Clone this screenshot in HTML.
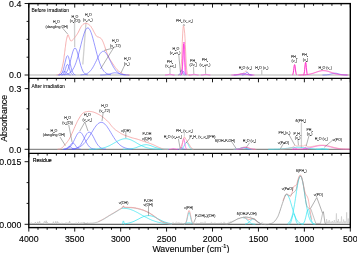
<!DOCTYPE html>
<html><head><meta charset="utf-8"><style>
html,body{margin:0;padding:0;background:#fff;overflow:hidden;}
svg{display:block;will-change:transform;font-family:"Liberation Sans",sans-serif;}
text{font-family:"Liberation Sans",sans-serif;}
</style></head><body>
<svg width="357" height="253" viewBox="0 0 357 253">
<rect width="357" height="253" fill="#fff"/>
<defs><clipPath id="pc"><rect x="28.80" y="0" width="321.50" height="253"/></clipPath></defs>
<g stroke-linejoin="round" fill="none" clip-path="url(#pc)">
<path d="M28.8 75.0L350.3 75.0" stroke="#a8a8a8" stroke-width="0.9"/>
<path d="M74.5 22.8L74.7 47.0" stroke="#cfcfcf" stroke-width="1.3"/>
<path d="M86.0 22.5L82.8 64.5" stroke="#cfcfcf" stroke-width="1.3"/>
<path d="M56.5 75.0L56.7 75.0L56.9 75.0L57.1 75.0L57.4 74.9L57.7 74.9L58.0 74.8L58.3 74.7L58.6 74.5L58.9 74.4L59.2 74.2L59.5 73.9L59.8 73.6L60.1 73.3L60.3 72.9L60.6 72.5L60.9 72.0L61.1 71.3L61.4 70.5L61.7 69.4L62.0 68.1L62.4 66.6L62.7 65.1L63.0 63.6L63.3 62.2L63.5 60.9L63.7 59.7L63.9 58.6L64.0 57.4L64.1 56.2L64.3 55.0L64.5 53.8L64.6 52.5L64.8 51.2L65.0 50.0L65.1 48.7L65.3 47.5L65.5 46.3L65.6 45.1L65.8 43.9L65.9 42.7L66.1 41.6L66.3 40.5L66.5 39.4L66.8 38.2L67.1 37.0L67.4 36.0L67.6 35.2L67.9 34.8L68.1 34.8L68.4 35.1L68.6 35.7L68.8 36.5L69.1 37.2L69.3 37.8L69.5 38.4L69.8 39.0L70.0 39.6L70.3 40.2L70.5 40.7L70.8 41.0L71.1 41.1L71.4 41.0L71.6 40.9L71.9 40.6L72.3 40.3L72.6 40.0L73.0 39.7L73.3 39.3L73.7 38.8L74.1 38.3L74.6 37.8L75.0 37.2L75.5 36.6L75.9 36.0L76.4 35.3L76.9 34.6L77.4 33.8L77.9 33.0L78.4 32.1L78.9 31.0L79.4 30.0L79.9 28.9L80.4 27.9L80.9 27.1L81.3 26.4L81.7 25.8L82.1 25.3L82.5 24.9L82.9 24.5L83.3 24.2L83.8 23.9L84.3 23.7L84.8 23.5L85.3 23.4L85.9 23.3L86.4 23.4L87.0 23.6L87.6 23.8L88.2 24.1L88.8 24.5L89.4 25.0L89.9 25.4L90.4 25.9L90.8 26.4L91.2 26.9L91.5 27.5L91.9 28.1L92.3 28.7L92.7 29.4L93.1 30.2L93.5 31.0L93.9 31.8L94.3 32.5L94.7 33.2L95.0 33.8L95.3 34.4L95.6 34.9L95.9 35.4L96.2 35.8L96.5 36.2L96.9 36.5L97.2 36.7L97.6 36.8L98.0 36.9L98.4 37.0L98.8 37.2L99.2 37.4L99.6 37.6L100.0 37.8L100.4 38.0L100.8 38.3L101.2 38.6L101.5 39.0L101.8 39.5L102.1 40.0L102.4 40.5L102.7 41.2L103.0 41.8L103.3 42.5L103.5 43.1L103.8 43.8L104.1 44.6L104.4 45.5L104.8 46.6L105.2 47.9L105.7 49.4L106.2 51.1L106.8 52.7L107.4 54.3L108.0 55.8L108.6 57.1L109.3 58.3L110.0 59.5L110.7 60.6L111.5 61.7L112.2 62.8L112.9 64.0L113.7 65.2L114.5 66.3L115.3 67.5L116.1 68.5L116.9 69.5L117.8 70.4L118.7 71.2L119.7 71.9L120.6 72.5L121.5 73.1L122.3 73.6L123.0 74.0L123.6 74.3L124.2 74.4L124.8 74.6L125.4 74.7L126.0 74.8L126.7 74.9L127.5 74.9L128.2 75.0L129.0 75.0L129.6 75.0L130.0 75.0" stroke="#f49a9a" stroke-width="0.8" fill="none"/>
<path d="M178.0 75.0L178.3 75.0L178.7 75.0L179.0 75.0L179.3 75.0L179.7 74.8L180.0 74.6L180.3 73.9L180.7 72.4L181.0 69.6L181.3 64.9L181.7 58.3L182.0 50.1L182.3 41.4L182.7 33.9L183.0 28.7L183.3 26.2L183.7 26.1L184.0 27.5L184.3 29.9L184.7 33.3L185.0 38.2L185.3 44.6L185.7 51.9L186.0 59.0L186.3 65.0L186.7 69.3L187.0 72.1L187.3 73.7L187.7 74.5L188.0 74.8L188.3 74.9L188.7 75.0L189.0 75.0L189.3 75.0L189.7 75.0L190.0 75.0" stroke="#f49a9a" stroke-width="0.7" fill="none"/>
<path d="M234.0 74.9L234.5 74.9L235.1 74.8L235.6 74.8L236.1 74.7L236.7 74.6L237.2 74.5L237.7 74.4L238.3 74.3L238.8 74.1L239.3 74.0L239.9 73.9L240.4 73.8L240.9 73.7L241.5 73.7L242.0 73.6L242.5 73.5L243.1 73.3L243.6 73.0L244.1 72.6L244.7 72.0L245.2 71.5L245.7 71.1L246.3 71.0L246.8 71.3L247.3 71.8L247.9 72.6L248.4 73.3L248.9 73.9L249.5 74.4L250.0 74.7L250.5 74.8L251.1 74.9L251.6 75.0" stroke="#f49a9a" stroke-width="0.6" fill="none"/>
<path d="M292.0 75.0L292.2 74.9L292.5 74.7L292.8 74.2L293.0 73.5L293.3 72.2L293.6 70.4L293.8 68.4L294.1 66.3L294.4 64.9L294.6 64.4L294.9 65.1L295.2 66.7L295.4 68.8L295.7 70.8L296.0 72.5L296.2 73.7L296.5 74.4L296.8 74.7L297.0 74.9" stroke="#f49a9a" stroke-width="0.5" fill="none"/>
<path d="M303.1 74.9L303.4 74.8L303.6 74.6L303.9 74.1L304.1 73.1L304.4 71.6L304.6 69.5L304.9 66.9L305.1 64.4L305.4 62.7L305.6 62.1L305.9 62.9L306.1 64.9L306.4 67.4L306.6 69.9L306.9 72.0L307.1 73.4L307.4 74.2L307.6 74.7L307.9 74.9" stroke="#f49a9a" stroke-width="0.5" fill="none"/>
<path d="M297.8 75.0L298.8 75.0L299.8 75.0L300.8 74.9L301.8 74.9L302.8 74.9L303.8 74.8L304.8 74.7L305.8 74.7L306.8 74.5L307.8 74.4L308.8 74.2L309.8 74.0L310.8 73.8L311.8 73.5L312.8 73.2L313.8 72.9L314.8 72.5L315.8 72.2L316.8 71.8L317.8 71.5L318.8 71.2L319.8 70.9L320.8 70.7L321.8 70.5L322.8 70.4L323.8 70.4L324.8 70.5L325.8 70.6L326.8 70.8L327.8 71.0L328.8 71.3L329.8 71.7L330.8 72.0L331.8 72.4L332.8 72.7L333.8 73.1L334.8 73.4L335.8 73.7L336.8 73.9L337.8 74.1L338.8 74.3L339.8 74.5L340.8 74.6L341.8 74.7L342.8 74.8L343.8 74.8L344.8 74.9L345.8 74.9L346.8 74.9L347.8 75.0L348.8 75.0" stroke="#f49a9a" stroke-width="0.5" fill="none"/>
<path d="M58.9 74.9L59.8 74.8L60.7 74.4L61.5 73.6L62.4 72.2L63.3 69.9L64.1 66.7L65.0 62.8L65.9 59.1L66.7 56.5L67.6 55.6L68.5 56.9L69.3 59.8L70.2 63.6L71.1 67.4L71.9 70.4L72.8 72.5L73.7 73.8L74.5 74.5L75.4 74.8" stroke="#5656ff" stroke-width="0.6" fill="none"/>
<path d="M61.2 75.0L61.9 74.9L62.5 74.7L63.1 74.2L63.8 73.5L64.4 72.2L65.0 70.4L65.7 68.3L66.3 66.2L66.9 64.8L67.6 64.3L68.2 65.0L68.8 66.6L69.5 68.7L70.1 70.8L70.7 72.5L71.4 73.6L72.0 74.3L72.6 74.7L73.3 74.9" stroke="#5656ff" stroke-width="0.6" fill="none"/>
<path d="M57.9 75.0L58.6 75.0L59.2 74.9L59.9 74.8L60.6 74.5L61.2 74.1L61.9 73.5L62.6 72.8L63.2 72.1L63.9 71.7L64.6 71.5L65.2 71.7L65.9 72.3L66.6 72.9L67.2 73.6L67.9 74.2L68.6 74.6L69.2 74.8L69.9 74.9L70.6 75.0" stroke="#5656ff" stroke-width="0.6" fill="none"/>
<path d="M61.8 74.9L62.8 74.7L63.8 74.5L64.8 74.0L65.8 73.1L66.8 71.7L67.8 69.7L68.8 66.9L69.8 63.4L70.8 59.4L71.8 55.4L72.8 51.8L73.8 49.2L74.8 48.0L75.8 48.5L76.8 50.6L77.8 53.9L78.8 57.8L79.8 61.9L80.8 65.6L81.8 68.6L82.8 71.0L83.8 72.6L84.8 73.7L85.8 74.3L86.8 74.7L87.8 74.8" stroke="#5656ff" stroke-width="0.6" fill="none"/>
<path d="M64.0 74.8L65.0 74.7L66.0 74.5L67.0 74.3L68.0 73.9L69.0 73.4L70.0 72.7L71.0 71.9L72.0 70.7L73.0 69.2L74.0 67.4L75.0 65.2L76.0 62.6L77.0 59.5L78.0 56.2L79.0 52.5L80.0 48.6L81.0 44.6L82.0 40.7L83.0 37.1L84.0 33.8L85.0 31.1L86.0 29.2L87.0 28.1L88.0 27.8L89.0 28.5L90.0 30.0L91.0 32.3L92.0 35.3L93.0 38.8L94.0 42.6L95.0 46.5L96.0 50.5L97.0 54.3L98.0 57.8L99.0 61.0L100.0 63.9L101.0 66.3L102.0 68.3L103.0 70.0L104.0 71.3L105.0 72.3L106.0 73.1L107.0 73.7L108.0 74.1L109.0 74.4L110.0 74.6L111.0 74.7" stroke="#5656ff" stroke-width="0.6" fill="none"/>
<path d="M80.5 74.9L81.5 74.8L82.5 74.7L83.5 74.6L84.5 74.4L85.5 74.1L86.5 73.8L87.5 73.3L88.5 72.6L89.5 71.8L90.5 70.7L91.5 69.5L92.5 68.0L93.5 66.3L94.5 64.4L95.5 62.4L96.5 60.4L97.5 58.3L98.5 56.3L99.5 54.6L100.5 53.1L101.5 52.1L102.5 51.4L103.5 51.3L104.5 51.7L105.5 52.5L106.5 53.8L107.5 55.4L108.5 57.2L109.5 59.2L110.5 61.3L111.5 63.4L112.5 65.3L113.5 67.1L114.5 68.7L115.5 70.1L116.5 71.2L117.5 72.2L118.5 72.9L119.5 73.5L120.5 74.0L121.5 74.3L122.5 74.5L123.5 74.7L124.5 74.8L125.5 74.9" stroke="#5656ff" stroke-width="0.6" fill="none"/>
<path d="M100.2 75.0L101.2 75.0L102.2 75.0L103.2 74.9L104.2 74.9L105.2 74.8L106.2 74.7L107.2 74.5L108.2 74.3L109.2 74.1L110.2 73.8L111.2 73.5L112.2 73.2L113.2 73.0L114.2 72.8L115.2 72.8L116.2 72.9L117.2 73.0L118.2 73.3L119.2 73.6L120.2 73.9L121.2 74.1L122.2 74.4L123.2 74.6L124.2 74.7L125.2 74.8L126.2 74.9L127.2 74.9L128.2 75.0L129.2 75.0" stroke="#5656ff" stroke-width="0.6" fill="none"/>
<path d="M178.3 75.0L178.6 74.9L179.0 74.8L179.3 74.6L179.6 74.3L180.0 73.7L180.3 72.9L180.6 71.9L181.0 70.9L181.3 70.2L181.6 70.0L182.0 70.3L182.3 71.1L182.6 72.1L183.0 73.0L183.3 73.8L183.6 74.4L184.0 74.7L184.3 74.9L184.6 74.9" stroke="#5656ff" stroke-width="0.6" fill="none"/>
<path d="M180.1 75.0L180.4 75.0L180.8 74.9L181.1 74.8L181.4 74.5L181.8 74.1L182.1 73.5L182.4 72.8L182.8 72.1L183.1 71.7L183.4 71.5L183.8 71.7L184.1 72.3L184.4 72.9L184.8 73.6L185.1 74.2L185.4 74.6L185.8 74.8L186.1 74.9L186.4 75.0" stroke="#5656ff" stroke-width="0.6" fill="none"/>
<path d="M241.9 75.0L242.4 75.0L242.9 74.9L243.4 74.8L243.9 74.6L244.4 74.3L244.9 73.9L245.4 73.4L245.9 72.9L246.4 72.5L246.9 72.4L247.4 72.6L247.9 73.0L248.4 73.5L248.9 74.0L249.4 74.4L249.9 74.7L250.4 74.8L250.9 74.9L251.4 75.0" stroke="#5656ff" stroke-width="0.6" fill="none"/>
<path d="M233.6 75.0L234.6 75.0L235.6 75.0L236.6 74.9L237.6 74.8L238.6 74.7L239.6 74.5L240.6 74.2L241.6 74.0L242.6 73.9L243.6 73.8L244.6 73.9L245.6 74.1L246.6 74.3L247.6 74.5L248.6 74.7L249.6 74.8L250.6 74.9L251.6 75.0L252.6 75.0" stroke="#5656ff" stroke-width="0.6" fill="none"/>
<path d="M322.5 75.0L323.5 75.0L324.5 75.0L325.5 74.9L326.5 74.9L327.5 74.7L328.5 74.6L329.5 74.4L330.5 74.1L331.5 73.8L332.5 73.6L333.5 73.3L334.5 73.2L335.5 73.2L336.5 73.3L337.5 73.5L338.5 73.8L339.5 74.1L340.5 74.4L341.5 74.6L342.5 74.7L343.5 74.8L344.5 74.9L345.5 75.0L346.5 75.0L347.5 75.0" stroke="#5656ff" stroke-width="0.6" fill="none"/>
<path d="M181.0 74.9L181.3 74.6L181.6 74.0L181.9 72.7L182.2 70.2L182.5 66.3L182.8 60.8L183.1 54.3L183.4 48.0L183.7 43.5L184.0 42.0L184.3 44.1L184.6 49.2L184.9 55.7L185.2 62.0L185.5 67.2L185.8 70.8L186.1 73.0L186.4 74.1L186.7 74.7" stroke="#ff30d8" stroke-width="0.65" fill="none"/>
<path d="M181.3 74.9L181.5 74.6L181.8 74.0L182.0 72.8L182.2 70.5L182.5 66.8L182.7 61.7L182.9 55.6L183.2 49.6L183.4 45.4L183.6 44.0L183.9 46.0L184.1 50.7L184.3 56.8L184.6 62.8L184.8 67.7L185.0 71.1L185.3 73.1L185.5 74.2L185.7 74.7" stroke="#ff30d8" stroke-width="0.65" fill="none"/>
<path d="M165.0 75.0L165.5 75.0L166.0 75.0L166.5 74.9L167.0 74.9L167.5 74.8L168.0 74.7L168.5 74.5L169.0 74.3L169.5 74.2L170.0 74.2L170.5 74.3L171.0 74.4L171.5 74.5L172.0 74.7L172.5 74.8L173.0 74.9L173.5 75.0L174.0 75.0L174.5 75.0" stroke="#ff30d8" stroke-width="0.65" fill="none"/>
<path d="M189.1 75.0L189.6 75.0L190.1 75.0L190.6 75.0L191.1 74.9L191.6 74.8L192.1 74.7L192.6 74.6L193.1 74.4L193.6 74.3L194.1 74.3L194.6 74.3L195.1 74.5L195.6 74.6L196.1 74.7L196.6 74.8L197.1 74.9L197.6 75.0L198.1 75.0L198.6 75.0" stroke="#ff30d8" stroke-width="0.65" fill="none"/>
<path d="M200.9 75.0L201.4 75.0L201.9 75.0L202.4 75.0L202.9 74.9L203.4 74.8L203.9 74.7L204.4 74.6L204.9 74.5L205.4 74.4L205.9 74.4L206.4 74.4L206.9 74.5L207.4 74.6L207.9 74.8L208.4 74.9L208.9 74.9L209.4 75.0L209.9 75.0L210.4 75.0" stroke="#ff30d8" stroke-width="0.65" fill="none"/>
<path d="M231.4 75.0L232.4 75.0L233.4 75.0L234.4 74.9L235.4 74.9L236.4 74.8L237.4 74.7L238.4 74.5L239.4 74.3L240.4 74.2L241.4 74.0L242.4 73.9L243.4 73.9L244.4 74.0L245.4 74.1L246.4 74.3L247.4 74.5L248.4 74.7L249.4 74.8L250.4 74.9L251.4 74.9L252.4 75.0L253.4 75.0L254.4 75.0" stroke="#ff30d8" stroke-width="0.65" fill="none"/>
<path d="M298.6 75.0L299.6 75.0L300.6 75.0L301.6 74.9L302.6 74.9L303.6 74.9L304.6 74.8L305.6 74.7L306.6 74.6L307.6 74.5L308.6 74.4L309.6 74.2L310.6 74.0L311.6 73.7L312.6 73.5L313.6 73.2L314.6 72.8L315.6 72.5L316.6 72.1L317.6 71.8L318.6 71.5L319.6 71.2L320.6 71.0L321.6 70.8L322.6 70.7L323.6 70.7L324.6 70.8L325.6 70.9L326.6 71.1L327.6 71.3L328.6 71.6L329.6 72.0L330.6 72.3L331.6 72.7L332.6 73.0L333.6 73.3L334.6 73.6L335.6 73.9L336.6 74.1L337.6 74.3L338.6 74.5L339.6 74.6L340.6 74.7L341.6 74.8L342.6 74.8L343.6 74.9L344.6 74.9L345.6 74.9L346.6 75.0L347.6 75.0" stroke="#ff30d8" stroke-width="0.65" fill="none"/>
<path d="M292.1 75.0L292.4 74.9L292.6 74.7L292.9 74.3L293.1 73.5L293.4 72.3L293.6 70.6L293.9 68.5L294.1 66.6L294.4 65.2L294.6 64.7L294.9 65.4L295.1 66.9L295.4 69.0L295.6 71.0L295.9 72.6L296.1 73.7L296.4 74.4L296.6 74.7L296.9 74.9" stroke="#ff30d8" stroke-width="0.95" fill="none"/>
<path d="M303.3 74.9L303.5 74.8L303.8 74.6L304.0 74.1L304.2 73.2L304.5 71.7L304.7 69.5L304.9 67.0L305.2 64.6L305.4 62.9L305.6 62.3L305.9 63.1L306.1 65.1L306.3 67.6L306.6 70.0L306.8 72.0L307.0 73.4L307.3 74.2L307.5 74.7L307.7 74.9" stroke="#ff30d8" stroke-width="0.95" fill="none"/>
<path d="M62.2 27.7L67.8 34.2" stroke="#505050" stroke-width="0.45"/>
<path d="M113.5 47.9L104.0 50.5" stroke="#505050" stroke-width="0.45"/>
<path d="M113.5 47.9L100.5 69.0" stroke="#505050" stroke-width="0.45"/>
<path d="M124.5 65.5L121.0 72.9" stroke="#505050" stroke-width="0.45"/>
<path d="M183.9 24.2L183.0 26.0" stroke="#505050" stroke-width="0.4"/>
<path d="M183.9 24.2L184.8 26.0" stroke="#505050" stroke-width="0.4"/>
<path d="M178.8 55.1L180.4 72.0" stroke="#505050" stroke-width="0.45"/>
<path d="M170.0 67.3L170.0 73.8" stroke="#505050" stroke-width="0.4"/>
<path d="M193.5 66.8L193.8 73.8" stroke="#505050" stroke-width="0.4"/>
<path d="M205.4 66.0L205.6 73.8" stroke="#505050" stroke-width="0.4"/>
<path d="M261.8 69.8L261.8 74.5" stroke="#505050" stroke-width="0.4"/>
<path d="M28.8 149.3L350.3 149.3" stroke="#555555" stroke-width="0.85"/>
<path d="M301.4 122.6L301.4 148.3" stroke="#cfcfcf" stroke-width="1.3"/>
<path d="M62.8 149.3L63.5 149.3L64.1 149.2L64.8 149.1L65.5 148.9L66.1 148.6L66.8 148.1L67.5 147.5L68.1 147.0L68.8 146.6L69.5 146.5L70.1 146.7L70.8 147.1L71.5 147.7L72.1 148.2L72.8 148.6L73.5 148.9L74.1 149.1L74.8 149.2L75.5 149.3" stroke="#5656ff" stroke-width="0.6" fill="none"/>
<path d="M64.2 149.3L65.1 149.2L66.0 149.1L66.8 148.8L67.7 148.4L68.6 147.6L69.4 146.6L70.3 145.3L71.2 144.1L72.0 143.2L72.9 142.9L73.8 143.3L74.6 144.3L75.5 145.5L76.4 146.8L77.2 147.8L78.1 148.5L79.0 148.9L79.8 149.1L80.7 149.2" stroke="#5656ff" stroke-width="0.6" fill="none"/>
<path d="M63.6 149.2L64.6 149.2L65.6 149.0L66.6 148.8L67.6 148.5L68.6 148.0L69.6 147.3L70.6 146.3L71.6 145.0L72.6 143.4L73.6 141.5L74.6 139.4L75.6 137.3L76.6 135.3L77.6 133.7L78.6 132.6L79.6 132.1L80.6 132.3L81.6 133.3L82.6 134.7L83.6 136.6L84.6 138.7L85.6 140.8L86.6 142.8L87.6 144.5L88.6 145.9L89.6 147.0L90.6 147.8L91.6 148.4L92.6 148.7L93.6 149.0L94.6 149.1L95.6 149.2" stroke="#5656ff" stroke-width="0.6" fill="none"/>
<path d="M72.0 149.2L73.0 149.2L74.0 149.1L75.0 148.9L76.0 148.6L77.0 148.2L78.0 147.6L79.0 146.7L80.0 145.7L81.0 144.3L82.0 142.6L83.0 140.8L84.0 138.8L85.0 136.8L86.0 135.0L87.0 133.5L88.0 132.5L89.0 132.1L90.0 132.3L91.0 133.1L92.0 134.5L93.0 136.2L94.0 138.1L95.0 140.1L96.0 142.1L97.0 143.8L98.0 145.2L99.0 146.4L100.0 147.3L101.0 148.0L102.0 148.5L103.0 148.8L104.0 149.0L105.0 149.1L106.0 149.2" stroke="#5656ff" stroke-width="0.6" fill="none"/>
<path d="M68.9 149.2L69.9 149.1L70.9 149.1L71.9 149.0L72.9 148.9L73.9 148.7L74.9 148.6L75.9 148.3L76.9 148.1L77.9 147.7L78.9 147.3L79.9 146.8L80.9 146.2L81.9 145.4L82.9 144.6L83.9 143.7L84.9 142.6L85.9 141.4L86.9 140.0L87.9 138.6L88.9 137.1L89.9 135.5L90.9 133.8L91.9 132.2L92.9 130.5L93.9 128.9L94.9 127.4L95.9 126.0L96.9 124.8L97.9 123.8L98.9 123.1L99.9 122.6L100.9 122.3L101.9 122.4L102.9 122.7L103.9 123.3L104.9 124.1L105.9 125.2L106.9 126.4L107.9 127.9L108.9 129.4L109.9 131.0L110.9 132.7L111.9 134.4L112.9 136.0L113.9 137.6L114.9 139.1L115.9 140.5L116.9 141.8L117.9 142.9L118.9 144.0L119.9 144.9L120.9 145.7L121.9 146.4L122.9 147.0L123.9 147.4L124.9 147.8L125.9 148.2L126.9 148.4L127.9 148.6L128.9 148.8L129.9 148.9L130.9 149.0L131.9 149.1L132.9 149.2" stroke="#5656ff" stroke-width="0.6" fill="none"/>
<path d="M177.5 149.3L177.9 149.3L178.3 149.3L178.7 149.2L179.1 149.1L179.5 148.9L179.9 148.7L180.3 148.4L180.7 148.1L181.1 147.9L181.5 147.8L181.9 147.9L182.3 148.1L182.7 148.4L183.1 148.7L183.5 148.9L183.9 149.1L184.3 149.2L184.7 149.3L185.1 149.3" stroke="#5656ff" stroke-width="0.6" fill="none"/>
<path d="M234.8 149.3L235.6 149.3L236.4 149.2L237.3 149.2L238.1 149.0L238.9 148.8L239.8 148.5L240.6 148.2L241.4 147.8L242.3 147.6L243.1 147.5L243.9 147.6L244.8 147.9L245.6 148.2L246.4 148.6L247.3 148.9L248.1 149.1L248.9 149.2L249.8 149.3L250.6 149.3" stroke="#5656ff" stroke-width="0.6" fill="none"/>
<path d="M89.2 149.3L90.2 149.2L91.2 149.2L92.2 149.2L93.2 149.2L94.2 149.1L95.2 149.1L96.2 149.0L97.2 148.9L98.2 148.8L99.2 148.7L100.2 148.5L101.2 148.4L102.2 148.2L103.2 147.9L104.2 147.7L105.2 147.4L106.2 147.0L107.2 146.6L108.2 146.2L109.2 145.8L110.2 145.3L111.2 144.7L112.2 144.2L113.2 143.6L114.2 143.0L115.2 142.5L116.2 141.9L117.2 141.3L118.2 140.8L119.2 140.3L120.2 139.9L121.2 139.5L122.2 139.2L123.2 138.9L124.2 138.8L125.2 138.7L126.2 138.7L127.2 138.8L128.2 139.0L129.2 139.3L130.2 139.6L131.2 140.0L132.2 140.5L133.2 141.0L134.2 141.5L135.2 142.1L136.2 142.7L137.2 143.3L138.2 143.9L139.2 144.4L140.2 145.0L141.2 145.5L142.2 146.0L143.2 146.4L144.2 146.8L145.2 147.2L146.2 147.5L147.2 147.8L148.2 148.0L149.2 148.3L150.2 148.4L151.2 148.6L152.2 148.7L153.2 148.9L154.2 148.9L155.2 149.0L156.2 149.1L157.2 149.1L158.2 149.2L159.2 149.2L160.2 149.2L161.2 149.2" stroke="#30e4f0" stroke-width="0.7" fill="none"/>
<path d="M122.9 149.3L123.9 149.3L124.9 149.3L125.9 149.2L126.9 149.2L127.9 149.1L128.9 149.1L129.9 149.0L130.9 148.9L131.9 148.7L132.9 148.5L133.9 148.3L134.9 148.0L135.9 147.7L136.9 147.3L137.9 146.9L138.9 146.5L139.9 146.2L140.9 145.8L141.9 145.4L142.9 145.1L143.9 144.9L144.9 144.8L145.9 144.7L146.9 144.7L147.9 144.9L148.9 145.1L149.9 145.4L150.9 145.7L151.9 146.1L152.9 146.5L153.9 146.9L154.9 147.3L155.9 147.6L156.9 147.9L157.9 148.2L158.9 148.5L159.9 148.7L160.9 148.8L161.9 149.0L162.9 149.1L163.9 149.1L164.9 149.2L165.9 149.2L166.9 149.2L167.9 149.3L168.9 149.3" stroke="#30e4f0" stroke-width="0.7" fill="none"/>
<path d="M179.9 149.3L180.6 149.2L181.2 149.1L181.9 148.8L182.6 148.3L183.2 147.5L183.9 146.3L184.6 144.9L185.2 143.6L185.9 142.6L186.6 142.3L187.2 142.8L187.9 143.8L188.6 145.2L189.2 146.5L189.9 147.6L190.6 148.4L191.2 148.9L191.9 149.1L192.6 149.2" stroke="#30e4f0" stroke-width="0.7" fill="none"/>
<path d="M233.7 149.3L234.7 149.3L235.7 149.3L236.7 149.2L237.7 149.1L238.7 148.9L239.7 148.7L240.7 148.4L241.7 148.1L242.7 147.9L243.7 147.8L244.7 147.9L245.7 148.1L246.7 148.4L247.7 148.7L248.7 148.9L249.7 149.1L250.7 149.2L251.7 149.3L252.7 149.3" stroke="#30e4f0" stroke-width="0.7" fill="none"/>
<path d="M268.3 149.3L269.3 149.3L270.3 149.3L271.3 149.3L272.3 149.3L273.3 149.3L274.3 149.2L275.3 149.2L276.3 149.2L277.3 149.2L278.3 149.1L279.3 149.1L280.3 149.0L281.3 148.9L282.3 148.9L283.3 148.8L284.3 148.7L285.3 148.6L286.3 148.4L287.3 148.3L288.3 148.2L289.3 148.0L290.3 147.9L291.3 147.8L292.3 147.7L293.3 147.6L294.3 147.5L295.3 147.4L296.3 147.3L297.3 147.3L298.3 147.3L299.3 147.3L300.3 147.4L301.3 147.4L302.3 147.5L303.3 147.6L304.3 147.7L305.3 147.9L306.3 148.0L307.3 148.1L308.3 148.3L309.3 148.4L310.3 148.5L311.3 148.6L312.3 148.7L313.3 148.8L314.3 148.9L315.3 149.0L316.3 149.0L317.3 149.1L318.3 149.1L319.3 149.2L320.3 149.2L321.3 149.2L322.3 149.2L323.3 149.3L324.3 149.3L325.3 149.3L326.3 149.3L327.3 149.3" stroke="#30e4f0" stroke-width="0.7" fill="none"/>
<path d="M316.2 149.3L316.9 149.3L317.5 149.3L318.2 149.2L318.9 149.2L319.5 149.1L320.2 149.0L320.9 148.8L321.5 148.6L322.2 148.5L322.9 148.5L323.5 148.6L324.2 148.7L324.9 148.8L325.5 149.0L326.2 149.1L326.9 149.2L327.5 149.3L328.2 149.3L328.9 149.3" stroke="#30e4f0" stroke-width="0.7" fill="none"/>
<path d="M180.2 149.3L180.6 149.2L180.9 149.0L181.3 148.5L181.6 147.7L182.0 146.4L182.3 144.6L182.7 142.5L183.0 140.4L183.4 138.9L183.7 138.4L184.1 139.1L184.4 140.8L184.8 142.9L185.1 145.0L185.5 146.7L185.8 147.9L186.2 148.6L186.5 149.0L186.9 149.2" stroke="#ff30d8" stroke-width="0.6" fill="none"/>
<path d="M168.5 149.3L169.0 149.3L169.5 149.3L170.0 149.3L170.5 149.2L171.0 149.1L171.5 149.0L172.0 148.9L172.5 148.7L173.0 148.6L173.5 148.6L174.0 148.6L174.5 148.8L175.0 148.9L175.5 149.0L176.0 149.1L176.5 149.2L177.0 149.3L177.5 149.3L178.0 149.3" stroke="#ff30d8" stroke-width="0.6" fill="none"/>
<path d="M236.1 149.3L237.1 149.3L238.1 149.2L239.1 149.2L240.1 149.0L241.1 148.8L242.1 148.4L243.1 148.0L244.1 147.7L245.1 147.4L246.1 147.3L247.1 147.4L248.1 147.7L249.1 148.1L250.1 148.5L251.1 148.8L252.1 149.0L253.1 149.2L254.1 149.2L255.1 149.3" stroke="#ff30d8" stroke-width="0.6" fill="none"/>
<path d="M291.9 149.3L292.2 149.3L292.5 149.3L292.8 149.2L293.1 149.1L293.4 148.9L293.7 148.6L294.0 148.3L294.3 148.0L294.6 147.8L294.9 147.7L295.2 147.8L295.5 148.0L295.8 148.4L296.1 148.7L296.4 148.9L296.7 149.1L297.0 149.2L297.3 149.3L297.6 149.3" stroke="#ff30d8" stroke-width="0.6" fill="none"/>
<path d="M302.3 149.3L302.6 149.3L302.9 149.2L303.2 149.2L303.5 149.0L303.8 148.8L304.1 148.5L304.4 148.1L304.7 147.7L305.0 147.5L305.3 147.4L305.6 147.5L305.9 147.8L306.2 148.2L306.5 148.6L306.8 148.9L307.1 149.1L307.4 149.2L307.7 149.3L308.0 149.3" stroke="#ff30d8" stroke-width="0.6" fill="none"/>
<path d="M292.3 149.3L293.3 149.3L294.3 149.3L295.3 149.3L296.3 149.2L297.3 149.2L298.3 149.2L299.3 149.1L300.3 149.1L301.3 149.0L302.3 149.0L303.3 148.9L304.3 148.8L305.3 148.6L306.3 148.5L307.3 148.3L308.3 148.1L309.3 147.9L310.3 147.7L311.3 147.4L312.3 147.2L313.3 146.9L314.3 146.7L315.3 146.4L316.3 146.2L317.3 146.0L318.3 145.8L319.3 145.7L320.3 145.6L321.3 145.5L322.3 145.5L323.3 145.5L324.3 145.6L325.3 145.7L326.3 145.9L327.3 146.1L328.3 146.3L329.3 146.6L330.3 146.8L331.3 147.1L332.3 147.3L333.3 147.6L334.3 147.8L335.3 148.0L336.3 148.2L337.3 148.4L338.3 148.6L339.3 148.7L340.3 148.8L341.3 148.9L342.3 149.0L343.3 149.1L344.3 149.1L345.3 149.2L346.3 149.2L347.3 149.2L348.3 149.2L349.3 149.3L350.3 149.3L351.3 149.3" stroke="#ff30d8" stroke-width="0.6" fill="none"/>
<path d="M57.5 149.3L57.8 149.3L58.3 149.2L58.9 149.2L59.5 149.1L60.1 149.0L60.6 148.8L61.0 148.6L61.4 148.3L61.8 148.0L62.2 147.6L62.6 147.2L63.0 146.8L63.5 146.4L63.9 145.9L64.4 145.4L64.9 144.8L65.4 144.2L66.0 143.5L66.6 142.8L67.1 142.1L67.7 141.4L68.3 140.5L69.0 139.4L69.8 138.0L70.7 136.1L71.8 133.8L73.0 131.2L74.1 128.6L75.1 126.3L75.9 124.5L76.5 123.3L76.8 122.5L77.1 121.9L77.3 121.5L77.6 120.9L78.0 120.2L78.6 119.2L79.3 118.0L80.1 116.7L80.9 115.5L81.7 114.4L82.5 113.5L83.3 112.9L84.0 112.4L84.8 112.1L85.5 111.9L86.3 111.8L87.0 111.6L87.7 111.5L88.4 111.4L89.1 111.4L89.8 111.4L90.6 111.5L91.4 111.6L92.3 111.8L93.2 112.0L94.1 112.3L95.1 112.7L96.1 113.1L97.0 113.5L97.9 114.0L98.9 114.5L99.8 115.0L100.7 115.6L101.7 116.2L102.6 116.9L103.6 117.7L104.6 118.5L105.6 119.4L106.6 120.2L107.5 121.1L108.3 121.9L109.0 122.6L109.6 123.4L110.1 124.1L110.6 124.7L111.1 125.4L111.6 126.0L112.1 126.6L112.7 127.2L113.2 127.7L113.7 128.3L114.2 128.8L114.8 129.3L115.4 129.8L116.0 130.2L116.7 130.7L117.3 131.1L118.0 131.5L118.6 131.9L119.2 132.3L119.9 132.7L120.5 133.2L121.2 133.6L121.8 133.9L122.5 134.3L123.2 134.6L123.9 134.9L124.6 135.2L125.3 135.5L126.0 135.7L126.8 136.0L127.6 136.3L128.5 136.6L129.4 136.9L130.2 137.2L131.1 137.5L132.0 137.8L132.8 138.0L133.6 138.2L134.3 138.4L135.1 138.6L136.0 138.8L137.1 139.1L138.4 139.5L139.9 140.0L141.6 140.6L143.2 141.1L144.7 141.7L146.0 142.1L147.0 142.4L147.8 142.7L148.6 142.9L149.2 143.1L149.8 143.4L150.5 143.6L151.2 143.9L151.9 144.2L152.6 144.4L153.2 144.7L153.9 145.0L154.5 145.3L155.1 145.6L155.7 145.9L156.3 146.2L156.9 146.5L157.4 146.7L158.0 147.0L158.5 147.2L159.1 147.5L159.6 147.7L160.1 147.9L160.7 148.1L161.2 148.3L161.8 148.5L162.3 148.7L162.9 148.8L163.5 149.0L164.0 149.1L164.6 149.2L165.2 149.3L165.9 149.3L166.5 149.3L167.1 149.3L167.6 149.3L168.0 149.3" stroke="#f49a9a" stroke-width="0.8" fill="none"/>
<path d="M179.0 149.3L180.4 148.7L182.4 142.8L184.3 136.7L186.0 139.3L188.1 142.8L190.5 146.7L192.3 149.0L193.5 149.3" stroke="#f49a9a" stroke-width="0.7" fill="none"/>
<path d="M233.4 149.3L234.4 149.3L235.4 149.2L236.4 149.2L237.4 149.1L238.4 148.9L239.4 148.6L240.4 148.3L241.4 147.9L242.4 147.5L243.4 147.2L244.4 147.0L245.4 147.0L246.4 147.2L247.4 147.5L248.4 147.9L249.4 148.3L250.4 148.6L251.4 148.9L252.4 149.1L253.4 149.2L254.4 149.2L255.4 149.3L256.4 149.3" stroke="#f49a9a" stroke-width="0.6" fill="none"/>
<path d="M280.0 149.3L280.3 149.2L280.6 149.2L280.9 149.2L281.2 149.2L281.5 149.2L281.8 149.2L282.1 149.2L282.4 149.2L282.7 149.2L283.0 149.1L283.3 149.1L283.6 149.1L283.9 149.1L284.2 149.1L284.5 149.0L284.8 149.0L285.1 149.0L285.4 148.9L285.7 148.9L286.0 148.9L286.3 148.8L286.6 148.8L286.9 148.7L287.2 148.7L287.5 148.6L287.8 148.6L288.1 148.5L288.4 148.4L288.7 148.4L289.0 148.3L289.3 148.2L289.6 148.2L289.9 148.1L290.2 148.0L290.5 147.9L290.8 147.8L291.1 147.7L291.4 147.7L291.7 147.6L292.0 147.5L292.3 147.4L292.6 147.2L292.9 147.1L293.2 146.9L293.5 146.6L293.8 146.3L294.1 146.0L294.4 145.6L294.7 145.4L295.0 145.3L295.3 145.3L295.6 145.5L295.9 145.6L296.2 145.8L296.5 145.9L296.8 146.0L297.1 146.0L297.4 146.0L297.7 146.0L298.0 146.0L298.3 145.9L298.6 145.9L298.9 145.9L299.2 145.9L299.5 145.9L299.8 145.9L300.1 145.9L300.4 145.9L300.7 145.9L301.0 145.9L301.3 145.9L301.6 145.9L301.9 146.0L302.2 146.0L302.5 146.0L302.8 146.0L303.1 146.0L303.4 146.0L303.7 145.9L304.0 145.7L304.3 145.5L304.6 145.3L304.9 145.1L305.2 145.0L305.5 145.1L305.8 145.3L306.1 145.6L306.4 145.9L306.7 146.1L307.0 146.4L307.3 146.5L307.6 146.6L307.9 146.6L308.2 146.7L308.5 146.7L308.8 146.7L309.1 146.7L309.4 146.7L309.7 146.7L310.0 146.6L310.3 146.6L310.6 146.6L310.9 146.6L311.2 146.5L311.5 146.5L311.8 146.5L312.1 146.4L312.4 146.4L312.7 146.4L313.0 146.3L313.3 146.3L313.6 146.2L313.9 146.1L314.2 146.1L314.5 146.0L314.8 146.0L315.1 145.9L315.4 145.9L315.7 145.8L316.0 145.8L316.3 145.7L316.6 145.6L316.9 145.6L317.2 145.5L317.5 145.5L317.8 145.4L318.1 145.4L318.4 145.4L318.7 145.3L319.0 145.3L319.3 145.2L319.6 145.2L319.9 145.2L320.2 145.2L320.5 145.1L320.8 145.1L321.1 145.1L321.4 145.1L321.7 145.1L322.0 145.1L322.3 145.1L322.6 145.1L322.9 145.1L323.2 145.1L323.5 145.1L323.8 145.2L324.1 145.2L324.4 145.2L324.7 145.3L325.0 145.3L325.3 145.3L325.6 145.4L325.9 145.4L326.2 145.5L326.5 145.5L326.8 145.6L327.1 145.7L327.4 145.7L327.7 145.8L328.0 145.9L328.3 145.9L328.6 146.0L328.9 146.1L329.2 146.1L329.5 146.2L329.8 146.3L330.1 146.4L330.4 146.5L330.7 146.5L331.0 146.6L331.3 146.7L331.6 146.8L331.9 146.9L332.2 146.9L332.5 147.0L332.8 147.1L333.1 147.2L333.4 147.3L333.7 147.3L334.0 147.4L334.3 147.5L334.6 147.6L334.9 147.6L335.2 147.7L335.5 147.8L335.8 147.8L336.1 147.9L336.4 148.0L336.7 148.0L337.0 148.1L337.3 148.2L337.6 148.2L337.9 148.3L338.2 148.3L338.5 148.4L338.8 148.4L339.1 148.5L339.4 148.5L339.7 148.6L340.0 148.6L340.3 148.6L340.6 148.7L340.9 148.7L341.2 148.8L341.5 148.8L341.8 148.8L342.1 148.9L342.4 148.9L342.7 148.9L343.0 148.9L343.3 149.0L343.6 149.0L343.9 149.0L344.2 149.0L344.5 149.0L344.8 149.1L345.1 149.1L345.4 149.1L345.7 149.1L346.0 149.1L346.3 149.1L346.6 149.2L346.9 149.2L347.2 149.2L347.5 149.2L347.8 149.2L348.1 149.2L348.4 149.2L348.7 149.2L349.0 149.2L349.3 149.2" stroke="#f49a9a" stroke-width="0.6" fill="none"/>
<path d="M60.0 137.0L65.4 145.6" stroke="#505050" stroke-width="0.45"/>
<path d="M68.7 124.7L72.1 142.2" stroke="#505050" stroke-width="0.45"/>
<path d="M84.9 122.0L79.8 131.0" stroke="#505050" stroke-width="0.45"/>
<path d="M84.9 122.0L88.0 131.0" stroke="#505050" stroke-width="0.45"/>
<path d="M103.2 112.5L102.0 121.0" stroke="#505050" stroke-width="0.45"/>
<path d="M125.8 131.8L125.8 138.0" stroke="#505050" stroke-width="0.45"/>
<path d="M146.9 139.6L145.5 141.5" stroke="#505050" stroke-width="0.45"/>
<path d="M146.9 139.6L148.3 141.5" stroke="#505050" stroke-width="0.45"/>
<path d="M184.3 132.6L184.3 136.3" stroke="#cfcfcf" stroke-width="0.9"/>
<path d="M178.4 138.9L180.1 148.1" stroke="#505050" stroke-width="0.45"/>
<path d="M190.2 137.8L186.0 143.1" stroke="#505050" stroke-width="0.45"/>
<path d="M231.8 141.9L236.0 148.3" stroke="#505050" stroke-width="0.45"/>
<path d="M249.5 142.8L246.1 147.8" stroke="#505050" stroke-width="0.45"/>
<path d="M288.6 133.9L294.8 145.2" stroke="#505050" stroke-width="0.45"/>
<path d="M297.9 139.2L298.4 145.3" stroke="#505050" stroke-width="0.45"/>
<path d="M309.2 135.0L306.1 146.2" stroke="#505050" stroke-width="0.45"/>
<path d="M283.5 143.5L280.5 148.5" stroke="#505050" stroke-width="0.45"/>
<path d="M333.3 139.6L324.2 147.3" stroke="#505050" stroke-width="0.45"/>
<path d="M28.8 224.3L350.3 224.3" stroke="#303030" stroke-width="0.9"/>
<path d="M28.8 222.5L29.4 223.5L30.0 223.5L30.6 223.2L31.2 223.1L31.8 222.8L32.4 223.5L33.0 223.5L33.6 223.5L34.2 223.5L34.8 223.5L35.4 222.0L36.0 223.5L36.6 223.5L37.2 223.5L37.8 221.8L38.4 223.5L39.0 223.5L39.6 221.3L40.2 223.5L40.8 223.5L41.4 223.5L42.0 223.5L42.6 223.5L43.2 223.1L43.8 223.5L44.4 221.4L45.0 222.6L45.6 222.9L46.2 220.7L46.8 223.5L47.4 222.4L48.0 223.5L48.6 223.5L49.2 223.5L49.8 223.5L50.4 223.5L51.0 223.5L51.6 223.5L52.2 223.5L52.8 223.5L53.4 221.7L54.0 223.5L54.6 223.5L55.2 223.5L55.8 221.3L56.4 223.5L57.0 223.5L57.6 221.5L58.2 223.5L58.8 222.7L59.4 223.5L60.0 223.0L60.6 223.5L61.2 223.5L61.8 222.8L62.4 223.5L63.0 223.3L63.6 223.5L64.2 223.5L64.8 223.5L65.4 223.5L66.0 222.5L66.6 223.3L67.2 223.3L67.8 223.0L68.4 223.1L69.0 223.5L69.6 221.2L70.2 222.9L70.8 223.5L71.4 223.5L72.0 223.5L72.6 223.5L73.2 223.5L73.8 223.5L74.4 223.5L75.0 223.5L75.6 223.3L76.2 222.7L76.8 223.5L77.4 223.5L78.0 223.5L78.6 222.3L79.2 222.8L79.8 223.5L80.4 223.5L81.0 222.6L81.6 223.5L82.2 222.6L82.8 223.5L83.4 223.5L84.0 222.0L84.6 223.5L85.2 222.9L85.8 223.5L86.4 223.5L87.0 222.9L87.6 222.8" stroke="#a8a8a8" stroke-width="0.5" fill="none"/>
<path d="M98.3 221.5L98.8 221.3L99.4 221.0L100.2 220.6L101.1 220.2L101.9 219.8L102.8 219.3L103.7 218.8L104.6 218.3L105.5 217.7L106.5 217.1L107.5 216.5L108.4 215.9L109.3 215.3L110.3 214.8L111.2 214.2L112.1 213.7L113.1 213.2L114.0 212.6L115.0 212.0L116.0 211.4L117.0 210.8L117.9 210.2L118.8 209.7L119.6 209.2L120.3 208.8L120.8 208.5L121.3 208.2L121.7 208.0L122.1 207.8L122.4 207.5L122.7 207.2L122.8 206.9L123.0 206.6L123.1 206.3L123.2 206.1L123.3 206.0L123.5 206.1L123.6 206.3L123.8 206.6L124.0 206.9L124.1 207.1L124.2 207.3" stroke="#f49a9a" stroke-width="0.45" fill="none"/>
<path d="M102.8 219.9L103.4 219.5L104.3 219.0L105.2 218.4L106.3 217.8L107.4 217.1L108.4 216.5L109.3 215.9L110.3 215.4L111.2 214.8L112.1 214.3L113.1 213.8L114.0 213.2L115.0 212.6L116.0 212.0L117.0 211.4L117.9 210.8L118.8 210.3L119.6 209.8L120.3 209.4L120.8 209.0L121.3 208.7L121.8 208.5L122.1 208.3L122.4 208.1" stroke="#c8eef0" stroke-width="0.5" fill="none"/>
<path d="M84.0 223.5L84.5 223.5L85.3 223.5L86.2 223.4L87.2 223.4L88.1 223.3L89.0 223.3L89.8 223.3L90.6 223.2L91.4 223.2L92.2 223.2L93.0 223.1L93.8 223.0L94.6 222.9L95.3 222.7L96.1 222.5L96.8 222.3L97.6 222.1L98.3 221.8L99.0 221.5L99.8 221.2L100.5 220.8L101.2 220.5L102.0 220.0L102.8 219.6L103.7 219.1L104.6 218.6L105.5 218.0L106.5 217.4L107.5 216.8L108.4 216.2L109.3 215.6L110.3 215.1L111.2 214.5L112.1 214.0L113.1 213.5L114.0 212.9L115.0 212.3L116.0 211.7L117.0 211.1L117.9 210.5L118.8 210.0L119.6 209.5L120.3 209.1L120.8 208.8L121.3 208.5L121.7 208.3L122.1 208.1L122.4 207.8L122.7 207.5L122.8 207.2L123.0 206.9L123.1 206.6L123.2 206.4L123.3 206.3L123.4 206.4L123.5 206.6L123.6 206.9L123.7 207.2L123.9 207.4L124.2 207.6L124.7 207.7L125.2 207.7L125.8 207.7L126.5 207.6L127.3 207.6L128.0 207.6L128.8 207.6L129.6 207.7L130.5 207.7L131.4 207.8L132.2 207.8L133.0 207.9L133.7 208.0L134.4 208.1L135.1 208.2L135.7 208.3L136.3 208.5L137.0 208.6L137.7 208.7L138.4 208.9L139.1 209.1L139.7 209.3L140.4 209.4L141.0 209.6L141.6 209.8L142.0 209.9L142.5 210.0L143.0 210.2L143.5 210.4L144.1 210.6L144.8 210.9L145.5 211.2L146.4 211.6L147.2 212.0L148.0 212.4L148.8 212.8L149.6 213.2L150.4 213.7L151.2 214.2L151.9 214.7L152.7 215.2L153.5 215.7L154.3 216.3L155.1 216.9L155.8 217.5L156.6 218.1L157.4 218.7L158.2 219.3L159.0 219.8L159.8 220.3L160.5 220.8L161.3 221.3L162.1 221.7L162.9 222.1L163.7 222.4L164.5 222.7L165.3 222.9L166.1 223.1L166.8 223.3L167.6 223.5L168.4 223.7L169.3 223.8L170.1 223.9L170.9 224.0L171.5 224.0L172.0 224.1" stroke="#999999" stroke-width="0.6" fill="none"/>
<path d="M172.0 223.6L172.7 222.4L173.4 222.4L174.1 223.6L174.8 223.6L175.5 223.3L176.2 221.8L176.9 222.2L177.6 223.0L178.3 222.6L179.0 222.0L179.7 223.6L180.4 222.8L181.1 223.6L181.8 222.4" stroke="#c8c8c8" stroke-width="0.5" fill="none"/>
<path d="M196.0 222.8L196.7 222.8L197.4 223.6L198.1 223.6L198.8 223.3L199.5 223.6L200.2 223.6L200.9 222.0L201.6 223.2L202.3 222.1L203.0 222.8L203.7 223.1L204.4 223.6L205.1 221.4L205.8 223.6L206.5 223.6L207.2 223.5L207.9 223.6L208.6 223.6L209.3 223.6L210.0 223.6L210.7 223.6L211.4 221.9L212.1 223.6L212.8 223.6L213.5 223.3L214.2 223.6L214.9 222.5L215.6 223.6L216.3 223.6L217.0 223.6L217.7 223.6L218.4 222.8L219.1 223.6L219.8 223.2L220.5 223.6L221.2 222.3L221.9 223.6L222.6 223.6L223.3 223.6L224.0 221.8L224.7 223.6L225.4 223.2" stroke="#c8c8c8" stroke-width="0.5" fill="none"/>
<path d="M224.0 224.0L224.7 222.8L225.4 224.0L226.1 224.0L226.8 224.0L227.5 224.0L228.2 222.3L228.9 221.9L229.6 222.8L230.3 221.4L231.0 222.3L231.7 221.9L232.4 221.4L233.1 221.3L233.8 221.0L234.5 220.4L235.2 220.3L235.9 219.6L236.6 219.6L237.3 219.2L238.0 218.0L238.7 218.4L239.4 218.5L240.1 218.3L240.8 217.6L241.5 217.5L242.2 217.7L242.9 217.6L243.6 216.5L244.3 217.4L245.0 217.4L245.7 216.6L246.4 217.4L247.1 216.6L247.8 217.5L248.5 217.6L249.2 217.8L249.9 216.8L250.6 216.4L251.3 218.4L252.0 217.6L252.7 218.7L253.4 219.1L254.1 219.1L254.8 220.1L255.5 220.5L256.2 221.0L256.9 221.4L257.6 221.9L258.3 222.3L259.0 222.7L259.7 223.1L260.4 223.6L261.1 222.9L261.8 222.7L262.5 222.4L263.2 222.9L263.9 223.9L264.6 224.2L265.3 224.2L266.0 224.3" stroke="#c4c4c4" stroke-width="0.5" fill="none"/>
<path d="M184.1 224.2L184.6 224.2L185.1 223.9L185.6 223.4L186.1 222.6L186.6 221.1L187.1 219.1L187.6 216.8L188.1 214.5L188.6 212.8L189.1 212.3L189.6 213.1L190.1 214.9L190.6 217.3L191.1 219.6L191.6 221.5L192.1 222.8L192.6 223.6L193.1 224.0L193.6 224.2" stroke="#30e4f0" stroke-width="0.7" fill="none"/>
<path d="M184.0 224.0L184.9 223.7L185.7 223.4L186.6 223.1L187.5 222.8L188.3 222.7L189.2 222.7L190.1 222.9L190.9 223.2L191.8 223.5L192.7 223.8" stroke="#30e4f0" stroke-width="0.6" fill="none"/>
<path d="M243.4 218.1L244.4 217.9L245.4 218.2L246.4 219.0L247.4 220.0L248.4 221.1L249.4 222.0L250.4 222.8L251.4 223.4L252.4 223.8L253.4 224.1L254.4 224.2L255.4 224.2" stroke="#30e4f0" stroke-width="0.7" fill="none"/>
<path d="M245.0 224.1L246.0 223.9L247.0 223.5L248.0 223.0L249.0 222.2L250.0 221.2L251.0 220.2L252.0 219.3L253.0 218.8L254.0 218.7L255.0 219.2L256.0 220.0L257.0 221.0L258.0 222.0L259.0 222.8L260.0 223.4L261.0 223.8L262.0 224.1" stroke="#30e4f0" stroke-width="0.7" fill="none"/>
<path d="M284.8 196.2L285.8 194.9L286.8 194.5L287.8 195.3L288.8 197.1L289.8 199.6L290.8 202.8L291.8 206.2L292.8 209.7L293.8 212.9L294.8 215.7L295.8 218.1L296.8 219.9L297.8 221.4L298.8 222.4L299.8 223.1L300.8 223.6L301.8 223.9L302.8 224.1L303.8 224.2" stroke="#30e4f0" stroke-width="0.7" fill="none"/>
<path d="M287.5 223.6L288.5 223.1L289.5 222.0L290.5 220.4L291.5 218.0L292.5 214.6L293.5 210.1L294.5 204.6L295.5 198.3L296.5 191.6L297.5 185.3L298.5 180.2L299.5 176.9L300.5 175.9L301.5 177.4L302.5 181.1L303.5 186.5L304.5 192.9L305.5 199.6L306.5 205.8L307.5 211.1L308.5 215.4L309.5 218.6L310.5 220.8L311.5 222.3L312.5 223.2L313.5 223.7L314.5 224.0L315.5 224.2" stroke="#30e4f0" stroke-width="0.7" fill="none"/>
<path d="M288.4 224.3L289.0 224.2L289.5 224.0L290.0 223.5L290.6 222.8L291.1 221.5L291.6 219.7L292.2 217.7L292.7 215.6L293.2 214.2L293.8 213.7L294.3 214.4L294.8 216.0L295.4 218.1L295.9 220.1L296.4 221.8L297.0 223.0L297.5 223.7L298.0 224.0L298.6 224.2" stroke="#30e4f0" stroke-width="0.7" fill="none"/>
<path d="M301.6 224.2L302.3 224.1L302.9 223.8L303.6 223.2L304.3 222.1L304.9 220.3L305.6 217.9L306.3 214.9L306.9 212.0L307.6 210.0L308.3 209.3L308.9 210.3L309.6 212.6L310.3 215.5L310.9 218.4L311.6 220.8L312.3 222.4L312.9 223.4L313.6 223.9L314.3 224.1" stroke="#30e4f0" stroke-width="0.7" fill="none"/>
<path d="M121.7 208.4L122.7 208.3L123.7 208.3L124.7 208.3L125.7 208.4L126.7 208.5L127.7 208.7L128.7 208.9L129.7 209.2L130.7 209.5L131.7 209.9L132.7 210.3L133.7 210.7L134.7 211.2L135.7 211.7L136.7 212.2L137.7 212.7L138.7 213.3L139.7 213.9L140.7 214.4L141.7 215.0L142.7 215.6L143.7 216.1L144.7 216.7L145.7 217.2L146.7 217.7L147.7 218.2L148.7 218.7L149.7 219.2L150.7 219.6L151.7 220.1L152.7 220.5L153.7 220.8L154.7 221.2L155.7 221.5L156.7 221.8L157.7 222.1L158.7 222.3L159.7 222.5L160.7 222.7L161.7 222.9L162.7 223.1L163.7 223.3L164.7 223.4L165.7 223.5L166.7 223.6L167.7 223.7L168.7 223.8L169.7 223.9L170.7 223.9L171.7 224.0" stroke="#30e4f0" stroke-width="0.7" fill="none"/>
<path d="M124.0 223.9L125.0 223.8L126.0 223.6L127.0 223.4L128.0 223.2L129.0 223.0L130.0 222.7L131.0 222.4L132.0 222.1L133.0 221.7L134.0 221.3L135.0 220.8L136.0 220.3L137.0 219.8L138.0 219.3L139.0 218.8L140.0 218.2L141.0 217.7L142.0 217.3L143.0 216.8L144.0 216.4L145.0 216.1L146.0 215.9L147.0 215.7L148.0 215.6L149.0 215.6L150.0 215.7L151.0 215.9L152.0 216.1L153.0 216.4L154.0 216.8L155.0 217.3L156.0 217.7L157.0 218.2L158.0 218.8L159.0 219.3L160.0 219.8L161.0 220.3L162.0 220.8L163.0 221.3L164.0 221.7L165.0 222.1L166.0 222.4L167.0 222.7L168.0 223.0L169.0 223.2L170.0 223.4L171.0 223.6L172.0 223.8" stroke="#30e4f0" stroke-width="0.7" fill="none"/>
<path d="M121.8 224.3L122.0 224.2L122.2 224.1L122.4 223.8L122.6 223.4L122.8 222.6L123.0 221.8L123.2 221.2L123.4 220.9L123.6 221.2L123.8 221.8L124.0 222.6L124.2 223.4L124.4 223.8L124.6 224.1L124.8 224.2L125.0 224.3" stroke="#30e4f0" stroke-width="0.7" fill="none"/>
<path d="M121.7 208.5L121.9 208.2L122.2 207.8L122.5 207.3L122.8 206.8L123.1 206.4L123.4 206.2L123.6 206.2L123.8 206.3L124.0 206.6L124.2 206.8L124.4 207.0L124.6 207.2L124.8 207.3L125.0 207.3L125.2 207.3L125.4 207.3L125.7 207.3L126.1 207.3L126.6 207.3L127.2 207.3L127.9 207.3L128.6 207.4L129.3 207.4L130.0 207.4L130.7 207.4L131.3 207.4L132.0 207.5L132.7 207.5L133.3 207.5L133.9 207.6L134.5 207.7L135.0 207.8L135.5 207.9L136.0 208.0L136.5 208.2L137.1 208.3L137.7 208.4L138.4 208.6L139.1 208.8L139.7 208.9L140.4 209.1L141.0 209.3L141.5 209.5L142.0 209.6L142.5 209.8L143.0 209.9L143.5 210.1L144.1 210.4L144.8 210.7L145.5 211.1L146.4 211.4L147.2 211.8L148.0 212.3L148.8 212.7L149.6 213.1L150.4 213.6L151.2 214.1L151.9 214.6L152.7 215.1L153.5 215.6L154.3 216.2L155.1 216.8L155.8 217.4L156.6 218.0L157.4 218.6L158.2 219.2L159.0 219.7L159.8 220.3L160.5 220.8L161.3 221.3L162.1 221.7L162.9 222.1L163.7 222.4L164.5 222.7L165.3 222.9L166.1 223.1L166.8 223.2L167.6 223.4L168.4 223.6L169.3 223.7L170.1 223.8L170.9 223.9L171.5 224.0L172.0 224.1" stroke="#f49a9a" stroke-width="0.8" fill="none"/>
<path d="M184.0 224.2L184.5 224.1L185.1 223.7L185.6 223.0L186.1 221.8L186.7 220.0L187.2 217.5L187.7 214.7L188.3 212.3L188.8 210.7L189.3 210.6L189.9 212.0L190.4 214.4L190.9 217.1L191.5 219.7L192.0 221.6L192.5 222.9L193.1 223.7L193.6 224.0L194.1 224.2L194.7 224.3" stroke="#f49a9a" stroke-width="0.7" fill="none"/>
<path d="M244.0 217.8L245.0 217.9L246.0 218.3L247.0 218.8L248.0 219.3L249.0 219.5L250.0 219.5L251.0 219.1L252.0 218.7L253.0 218.5L254.0 218.6L255.0 219.1L256.0 220.0L257.0 221.0L258.0 222.0L259.0 222.8L260.0 223.4L261.0 223.8L262.0 224.1" stroke="#f49a9a" stroke-width="0.7" fill="none"/>
<path d="M283.0 200.8L283.5 199.2L284.1 197.8L284.6 196.5L285.1 195.5L285.7 194.8L286.2 194.3L286.7 194.1L287.3 194.2L287.8 194.5L288.3 194.9L288.9 195.5L289.4 196.1L289.9 196.5L290.5 196.5L291.0 196.0L291.5 194.7L292.1 192.8L292.6 190.6L293.1 188.4L293.7 186.9L294.2 186.0L294.7 185.8L295.3 185.8L295.8 185.6L296.3 184.8L296.9 183.5L297.4 181.8L297.9 179.8L298.5 178.0L299.0 176.5L299.5 175.5L300.1 175.0L300.6 175.1L301.1 175.9L301.7 177.3L302.2 179.3L302.7 181.6L303.3 184.3L303.8 186.9L304.3 189.4L304.9 191.6L305.4 193.3L305.9 194.4L306.5 195.3L307.0 196.0L307.5 197.1L308.1 198.7L308.6 201.1L309.1 204.1L309.7 207.6L310.2 211.1L310.7 214.5L311.3 217.4L311.8 219.6" stroke="#f49a9a" stroke-width="0.7" fill="none"/>
<path d="M172.0 224.0L178.0 224.0L186.6 224.0L196.7 224.0L206.8 224.0L215.7 224.0L222.0 224.0L225.5 224.0L227.1 224.1L227.5 224.2L227.3 224.2L227.0 224.1L227.4 224.0L228.3 223.7L229.2 223.4L230.1 222.9L231.0 222.4L231.9 222.0L232.8 221.5L233.7 221.0L234.6 220.6L235.5 220.1L236.3 219.6L237.2 219.2L238.1 218.8L239.0 218.5L239.9 218.2L240.9 217.9L241.8 217.7L242.7 217.5L243.5 217.4L244.2 217.3L244.9 217.2L245.5 217.2L246.1 217.2L246.8 217.2L247.5 217.3L248.3 217.4L249.2 217.6L250.2 217.8L251.1 218.1L252.1 218.4L252.9 218.7L253.7 219.1L254.4 219.5L255.0 220.0L255.7 220.5L256.3 221.0L257.0 221.5L257.7 222.0L258.4 222.4L259.1 222.9L259.7 223.3L260.4 223.7L261.0 224.0L261.5 224.2L262.0 224.3L262.5 224.4L263.0 224.4L263.5 224.5L264.0 224.5L264.6 224.5L265.3 224.6L266.0 224.6L266.7 224.6L267.4 224.6L268.0 224.5L268.5 224.4L268.9 224.3L269.3 224.1L269.7 223.9L270.1 223.8L270.5 223.6L270.9 223.5L271.4 223.4L271.8 223.3L272.3 223.1L272.7 222.9L273.2 222.6L273.7 222.2L274.2 221.7L274.8 221.1L275.3 220.5L275.8 219.9L276.3 219.2L276.7 218.5L277.1 217.9L277.5 217.2L277.9 216.5L278.3 215.6L278.7 214.5L279.2 213.2L279.7 211.7L280.3 210.0L280.8 208.3L281.4 206.6L281.9 205.0L282.4 203.4L283.0 201.8L283.5 200.2L284.1 198.7L284.6 197.4L285.0 196.3L285.4 195.5L285.7 194.9L286.0 194.6L286.2 194.3L286.4 194.1L286.6 193.9" stroke="#8e8e8e" stroke-width="0.7" fill="none"/>
<path d="M286.6 193.9L286.9 194.1L287.4 194.5L288.0 194.9L288.6 195.2L289.2 195.4L289.8 195.5L290.3 195.3L290.8 195.0L291.3 194.6L291.9 194.1L292.4 193.6L292.9 193.1L293.4 192.6L294.0 192.2L294.6 191.7L295.1 191.1L295.6 190.4L296.1 189.5L296.5 188.3L296.8 186.9L297.1 185.3L297.4 183.8L297.7 182.3L298.0 181.0L298.4 179.9L298.8 178.7L299.2 177.7L299.6 176.8L300.0 176.2L300.4 176.0L300.8 176.2L301.1 176.7L301.5 177.4L301.9 178.4L302.2 179.4L302.5 180.5L302.8 181.6L303.0 182.7L303.2 183.9L303.5 185.2L303.7 186.8L304.0 188.6L304.3 190.9L304.7 193.6L305.1 196.5L305.5 199.4L305.9 202.0L306.3 204.0L306.7 205.4L307.1 206.4L307.5 207.0L307.8 207.5L308.2 207.8L308.6 208.2L309.0 208.5L309.4 208.6L309.8 208.7L310.2 208.6L310.5 208.6L310.7 208.6" stroke="#8e8e8e" stroke-width="0.6" fill="none"/>
<path d="M310.7 208.2L316.8 197.5L322.6 213.3L323.4 211.7L325.0 223.4L326.5 223.0" stroke="#8e8e8e" stroke-width="0.7" fill="none"/>
<path d="M310.7 208.6L315.8 223.4L320.5 223.4L322.6 213.3" stroke="#9a9a9a" stroke-width="0.6" fill="none"/>
<path d="M326.0 222.8L326.2 222.8L326.6 219.0L327.1 222.8L327.6 222.8L328.0 221.5L328.4 222.8L328.8 222.8L329.2 220.0L329.6 222.8L330.6 222.8L331.0 221.5L331.4 222.8L332.1 222.8L332.5 221.0L332.9 222.8L333.9 222.8L334.3 220.0L334.8 222.8L335.9 222.8L336.4 213.4L336.8 222.8L337.1 222.8L337.5 221.0L337.9 222.8L337.9 222.8L338.4 219.0L338.8 222.8L339.6 222.8L340.0 221.5L340.4 222.8L341.1 222.8L341.5 216.4L341.9 222.8L343.2 222.8L343.6 219.5L344.1 222.8L344.6 222.8L345.0 221.0L345.4 222.8L346.2 222.8L346.7 212.3L347.1 222.8L347.8 222.8L348.2 218.5L348.6 222.8L350.3 222.8" stroke="#bdbdbd" stroke-width="0.5" fill="none"/>
<path d="M148.5 206.0L148.5 215.6" stroke="#505050" stroke-width="0.45"/>
<path d="M196.2 216.9L193.7 222.8" stroke="#505050" stroke-width="0.45"/>
</g>
<g fill="#1a1a1a" stroke="#1a1a1a" stroke-width="0.07">
<text x="56.30" y="22.80" font-size="3.60" text-anchor="middle">H<tspan font-size="2.45" dy="1.01">2</tspan><tspan dy="-1.01">O</tspan></text>
<text x="56.80" y="27.70" font-size="3.60" text-anchor="middle">(dangling OH)</text>
<text x="74.80" y="17.90" font-size="3.60" text-anchor="middle">H<tspan font-size="2.45" dy="1.01">2</tspan><tspan dy="-1.01">O</tspan></text>
<text x="75.20" y="22.40" font-size="3.60" text-anchor="middle">(&#957;<tspan font-size="2.45" dy="1.01">2</tspan><tspan dy="-1.01">(O))</tspan></text>
<text x="88.30" y="16.20" font-size="3.60" text-anchor="middle">H<tspan font-size="2.45" dy="1.01">2</tspan><tspan dy="-1.01">O</tspan></text>
<text x="87.80" y="20.90" font-size="3.60" text-anchor="middle">(&#957;<tspan font-size="2.45" dy="1.01">1</tspan><tspan dy="-1.01">,&#957;<tspan font-size="2.45" dy="1.01">3</tspan><tspan dy="-1.01">)</tspan></tspan></text>
<text x="115.40" y="42.10" font-size="3.60" text-anchor="middle">H<tspan font-size="2.45" dy="1.01">2</tspan><tspan dy="-1.01">O</tspan></text>
<text x="115.40" y="47.40" font-size="3.60" text-anchor="middle">(&#957;<tspan font-size="2.45" dy="1.01">1</tspan><tspan dy="-1.01">,T2)</tspan></text>
<text x="127.40" y="59.80" font-size="3.60" text-anchor="middle">H<tspan font-size="2.45" dy="1.01">2</tspan><tspan dy="-1.01">O</tspan></text>
<text x="126.80" y="65.20" font-size="3.60" text-anchor="middle">(&#957;<tspan font-size="2.45" dy="1.01">2</tspan><tspan dy="-1.01">)</tspan></text>
<text x="184.50" y="21.80" font-size="3.60" text-anchor="middle">PH<tspan font-size="2.45" dy="1.01">3</tspan><tspan dy="-1.01"> (&#957;<tspan font-size="2.45" dy="1.01">1</tspan><tspan dy="-1.01">,&#957;<tspan font-size="2.45" dy="1.01">3</tspan><tspan dy="-1.01">)</tspan></tspan></tspan></text>
<text x="175.80" y="49.90" font-size="3.60" text-anchor="middle">H<tspan font-size="2.45" dy="1.01">2</tspan><tspan dy="-1.01">O</tspan></text>
<text x="175.10" y="54.30" font-size="3.60" text-anchor="middle">(&#957;<tspan font-size="2.45" dy="1.01">2</tspan><tspan dy="-1.01">+&#957;<tspan font-size="2.45" dy="1.01">L</tspan><tspan dy="-1.01">)</tspan></tspan></text>
<text x="170.00" y="62.70" font-size="3.60" text-anchor="middle">PH<tspan font-size="2.45" dy="1.01">3</tspan><tspan dy="-1.01"></tspan></text>
<text x="170.70" y="66.80" font-size="3.60" text-anchor="middle">(&#957;<tspan font-size="2.45" dy="1.01">1</tspan><tspan dy="-1.01">+&#957;<tspan font-size="2.45" dy="1.01">L</tspan><tspan dy="-1.01">)</tspan></tspan></text>
<text x="193.30" y="62.00" font-size="3.60" text-anchor="middle">PH<tspan font-size="2.45" dy="1.01">3</tspan><tspan dy="-1.01"></tspan></text>
<text x="193.30" y="66.40" font-size="3.60" text-anchor="middle">(2&#957;<tspan font-size="2.45" dy="1.01">4</tspan><tspan dy="-1.01">)</tspan></text>
<text x="205.00" y="61.00" font-size="3.60" text-anchor="middle">PH<tspan font-size="2.45" dy="1.01">3</tspan><tspan dy="-1.01"></tspan></text>
<text x="205.00" y="65.60" font-size="3.60" text-anchor="middle">(&#957;<tspan font-size="2.45" dy="1.01">2</tspan><tspan dy="-1.01">+&#957;<tspan font-size="2.45" dy="1.01">4</tspan><tspan dy="-1.01">)</tspan></tspan></text>
<text x="245.30" y="69.30" font-size="3.60" text-anchor="middle">H<tspan font-size="2.45" dy="1.01">2</tspan><tspan dy="-1.01">O (&#957;<tspan font-size="2.45" dy="1.01">2</tspan><tspan dy="-1.01">)</tspan></tspan></text>
<text x="261.80" y="69.30" font-size="3.60" text-anchor="middle">H<tspan font-size="2.45" dy="1.01">2</tspan><tspan dy="-1.01">O (&#957;<tspan font-size="2.45" dy="1.01">L</tspan><tspan dy="-1.01">)</tspan></tspan></text>
<text x="294.10" y="57.90" font-size="3.60" text-anchor="middle">PH<tspan font-size="2.45" dy="1.01">3</tspan><tspan dy="-1.01"></tspan></text>
<text x="294.40" y="62.10" font-size="3.60" text-anchor="middle">(&#957;<tspan font-size="2.45" dy="1.01">4</tspan><tspan dy="-1.01">)</tspan></text>
<text x="305.00" y="56.20" font-size="3.60" text-anchor="middle">PH<tspan font-size="2.45" dy="1.01">3</tspan><tspan dy="-1.01"></tspan></text>
<text x="305.50" y="60.70" font-size="3.60" text-anchor="middle">(&#957;<tspan font-size="2.45" dy="1.01">2</tspan><tspan dy="-1.01">)</tspan></text>
<text x="325.20" y="68.60" font-size="3.60" text-anchor="middle">H<tspan font-size="2.45" dy="1.01">2</tspan><tspan dy="-1.01">O (&#957;<tspan font-size="2.45" dy="1.01">L</tspan><tspan dy="-1.01">)</tspan></tspan></text>
<text x="53.90" y="131.60" font-size="3.60" text-anchor="middle">H<tspan font-size="2.45" dy="1.01">2</tspan><tspan dy="-1.01">O</tspan></text>
<text x="53.90" y="136.20" font-size="3.60" text-anchor="middle">(dangling OH)</text>
<text x="67.60" y="119.20" font-size="3.60" text-anchor="middle">H<tspan font-size="2.45" dy="1.01">2</tspan><tspan dy="-1.01">O</tspan></text>
<text x="67.60" y="123.80" font-size="3.60" text-anchor="middle">(&#957;<tspan font-size="2.45" dy="1.01">2</tspan><tspan dy="-1.01">(O))</tspan></text>
<text x="87.30" y="116.30" font-size="3.60" text-anchor="middle">H<tspan font-size="2.45" dy="1.01">2</tspan><tspan dy="-1.01">O</tspan></text>
<text x="87.30" y="121.10" font-size="3.60" text-anchor="middle">(&#957;<tspan font-size="2.45" dy="1.01">1</tspan><tspan dy="-1.01">,&#957;<tspan font-size="2.45" dy="1.01">3</tspan><tspan dy="-1.01">)</tspan></tspan></text>
<text x="104.70" y="107.40" font-size="3.60" text-anchor="middle">H<tspan font-size="2.45" dy="1.01">2</tspan><tspan dy="-1.01">O</tspan></text>
<text x="104.70" y="112.20" font-size="3.60" text-anchor="middle">(&#957;<tspan font-size="2.45" dy="1.01">1</tspan><tspan dy="-1.01">,T2)</tspan></text>
<text x="125.80" y="131.60" font-size="3.60" text-anchor="middle">&#957;(OH)</text>
<text x="146.90" y="135.30" font-size="3.60" text-anchor="middle">P-OH</text>
<text x="146.90" y="139.50" font-size="3.60" text-anchor="middle">&#957;(OH)</text>
<text x="184.50" y="131.80" font-size="3.60" text-anchor="middle">PH<tspan font-size="2.45" dy="1.01">3</tspan><tspan dy="-1.01"> (&#957;<tspan font-size="2.45" dy="1.01">1</tspan><tspan dy="-1.01">,&#957;<tspan font-size="2.45" dy="1.01">3</tspan><tspan dy="-1.01">)</tspan></tspan></tspan></text>
<text x="173.00" y="138.20" font-size="3.60" text-anchor="middle">H<tspan font-size="2.45" dy="1.01">2</tspan><tspan dy="-1.01">O (&#957;<tspan font-size="2.45" dy="1.01">2</tspan><tspan dy="-1.01">+&#957;<tspan font-size="2.45" dy="1.01">L</tspan><tspan dy="-1.01">)</tspan></tspan></tspan></text>
<text x="189.60" y="138.10" font-size="3.60" text-anchor="start">P<tspan font-size="2.45" dy="1.01">2</tspan><tspan dy="-1.01">H<tspan font-size="2.45" dy="1.01">4</tspan><tspan dy="-1.01"> (&#957;<tspan font-size="2.45" dy="1.01">1</tspan><tspan dy="-1.01">,&#957;<tspan font-size="2.45" dy="1.01">5</tspan><tspan dy="-1.01">)(PH)</tspan></tspan></tspan></tspan></text>
<text x="225.10" y="142.10" font-size="3.60" text-anchor="middle">&#948;(OH-P-OH)</text>
<text x="249.50" y="142.10" font-size="3.60" text-anchor="middle">H<tspan font-size="2.45" dy="1.01">2</tspan><tspan dy="-1.01">O (&#957;<tspan font-size="2.45" dy="1.01">2</tspan><tspan dy="-1.01">)</tspan></tspan></text>
<text x="300.90" y="122.40" font-size="3.60" text-anchor="middle">&#948;(PH<tspan font-size="2.45" dy="1.01">2</tspan><tspan dy="-1.01">)</tspan></text>
<text x="284.50" y="133.70" font-size="3.60" text-anchor="middle">PH<tspan font-size="2.45" dy="1.01">3</tspan><tspan dy="-1.01">(&#957;<tspan font-size="2.45" dy="1.01">4</tspan><tspan dy="-1.01">)</tspan></tspan></text>
<text x="297.40" y="134.70" font-size="3.60" text-anchor="middle">P<tspan font-size="2.45" dy="1.01">2</tspan><tspan dy="-1.01">H<tspan font-size="2.45" dy="1.01">4</tspan><tspan dy="-1.01"></tspan></tspan></text>
<text x="297.60" y="138.80" font-size="3.60" text-anchor="middle">(&#957;<tspan font-size="2.45" dy="1.01">2</tspan><tspan dy="-1.01">)</tspan></text>
<text x="309.60" y="130.60" font-size="3.60" text-anchor="middle">PH<tspan font-size="2.45" dy="1.01">3</tspan><tspan dy="-1.01"></tspan></text>
<text x="309.60" y="134.70" font-size="3.60" text-anchor="middle">(&#957;<tspan font-size="2.45" dy="1.01">2</tspan><tspan dy="-1.01">)</tspan></text>
<text x="283.50" y="143.90" font-size="3.60" text-anchor="middle">&#957;(P=O)</text>
<text x="321.40" y="140.00" font-size="3.60" text-anchor="middle">H<tspan font-size="2.45" dy="1.01">2</tspan><tspan dy="-1.01">O (&#957;<tspan font-size="2.45" dy="1.01">L</tspan><tspan dy="-1.01">)</tspan></tspan></text>
<text x="337.50" y="140.70" font-size="3.60" text-anchor="middle">&#957;(PO)</text>
<text x="123.60" y="203.90" font-size="3.60" text-anchor="middle">&#957;(OH)</text>
<text x="148.20" y="201.60" font-size="3.60" text-anchor="middle">P-OH</text>
<text x="148.20" y="205.70" font-size="3.60" text-anchor="middle">&#957;(OH)</text>
<text x="188.70" y="209.10" font-size="3.60" text-anchor="middle">&#957;(PH)</text>
<text x="205.20" y="217.30" font-size="3.60" text-anchor="middle">P-OH(-)(OH)</text>
<text x="246.80" y="214.60" font-size="3.60" text-anchor="middle">&#948;(OH-P-OH)</text>
<text x="287.40" y="189.80" font-size="3.60" text-anchor="middle">&#957;(P=O)</text>
<text x="301.30" y="172.10" font-size="3.60" text-anchor="middle">&#948;(PH<tspan font-size="2.45" dy="1.01">2</tspan><tspan dy="-1.01">)</tspan></text>
<text x="318.40" y="195.60" font-size="3.60" text-anchor="middle">&#957;(PO)</text>
</g>
<rect x="28.80" y="3.60" width="321.50" height="224.00" fill="none" stroke="#000" stroke-width="1.4"/>
<path d="M28.80 78.30H350.30M28.80 153.40H350.30" stroke="#000" stroke-width="1.15"/>
<path d="M28.80 3.60V7.60M28.80 78.30V82.30M28.80 153.40V157.40M28.80 227.60V231.60M37.99 3.60V5.80M37.99 78.30V80.50M37.99 153.40V155.60M37.99 227.60V229.80M47.17 3.60V5.80M47.17 78.30V80.50M47.17 153.40V155.60M47.17 227.60V229.80M56.36 3.60V5.80M56.36 78.30V80.50M56.36 153.40V155.60M56.36 227.60V229.80M65.54 3.60V5.80M65.54 78.30V80.50M65.54 153.40V155.60M65.54 227.60V229.80M74.73 3.60V7.60M74.73 78.30V82.30M74.73 153.40V157.40M74.73 227.60V231.60M83.91 3.60V5.80M83.91 78.30V80.50M83.91 153.40V155.60M83.91 227.60V229.80M93.10 3.60V5.80M93.10 78.30V80.50M93.10 153.40V155.60M93.10 227.60V229.80M102.29 3.60V5.80M102.29 78.30V80.50M102.29 153.40V155.60M102.29 227.60V229.80M111.47 3.60V5.80M111.47 78.30V80.50M111.47 153.40V155.60M111.47 227.60V229.80M120.66 3.60V7.60M120.66 78.30V82.30M120.66 153.40V157.40M120.66 227.60V231.60M129.84 3.60V5.80M129.84 78.30V80.50M129.84 153.40V155.60M129.84 227.60V229.80M139.03 3.60V5.80M139.03 78.30V80.50M139.03 153.40V155.60M139.03 227.60V229.80M148.21 3.60V5.80M148.21 78.30V80.50M148.21 153.40V155.60M148.21 227.60V229.80M157.40 3.60V5.80M157.40 78.30V80.50M157.40 153.40V155.60M157.40 227.60V229.80M166.59 3.60V7.60M166.59 78.30V82.30M166.59 153.40V157.40M166.59 227.60V231.60M175.77 3.60V5.80M175.77 78.30V80.50M175.77 153.40V155.60M175.77 227.60V229.80M184.96 3.60V5.80M184.96 78.30V80.50M184.96 153.40V155.60M184.96 227.60V229.80M194.14 3.60V5.80M194.14 78.30V80.50M194.14 153.40V155.60M194.14 227.60V229.80M203.33 3.60V5.80M203.33 78.30V80.50M203.33 153.40V155.60M203.33 227.60V229.80M212.51 3.60V7.60M212.51 78.30V82.30M212.51 153.40V157.40M212.51 227.60V231.60M221.70 3.60V5.80M221.70 78.30V80.50M221.70 153.40V155.60M221.70 227.60V229.80M230.89 3.60V5.80M230.89 78.30V80.50M230.89 153.40V155.60M230.89 227.60V229.80M240.07 3.60V5.80M240.07 78.30V80.50M240.07 153.40V155.60M240.07 227.60V229.80M249.26 3.60V5.80M249.26 78.30V80.50M249.26 153.40V155.60M249.26 227.60V229.80M258.44 3.60V7.60M258.44 78.30V82.30M258.44 153.40V157.40M258.44 227.60V231.60M267.63 3.60V5.80M267.63 78.30V80.50M267.63 153.40V155.60M267.63 227.60V229.80M276.81 3.60V5.80M276.81 78.30V80.50M276.81 153.40V155.60M276.81 227.60V229.80M286.00 3.60V5.80M286.00 78.30V80.50M286.00 153.40V155.60M286.00 227.60V229.80M295.19 3.60V5.80M295.19 78.30V80.50M295.19 153.40V155.60M295.19 227.60V229.80M304.37 3.60V7.60M304.37 78.30V82.30M304.37 153.40V157.40M304.37 227.60V231.60M313.56 3.60V5.80M313.56 78.30V80.50M313.56 153.40V155.60M313.56 227.60V229.80M322.74 3.60V5.80M322.74 78.30V80.50M322.74 153.40V155.60M322.74 227.60V229.80M331.93 3.60V5.80M331.93 78.30V80.50M331.93 153.40V155.60M331.93 227.60V229.80M341.11 3.60V5.80M341.11 78.30V80.50M341.11 153.40V155.60M341.11 227.60V229.80M350.30 3.60V7.60M350.30 78.30V82.30M350.30 153.40V157.40M350.30 227.60V231.60M24.60 3.50H28.80M24.60 75.00H28.80M26.60 21.40H28.80M26.60 39.30H28.80M26.60 57.20H28.80M24.60 88.60H28.80M24.60 149.30H28.80M26.60 108.80H28.80M26.60 129.10H28.80M24.60 161.70H28.80M24.60 224.30H28.80M26.60 182.60H28.80M26.60 203.40H28.80" stroke="#000" stroke-width="0.9" fill="none"/>
<g fill="#000" stroke="#000" stroke-width="0.12">
<text transform="translate(21.3 6.95) scale(1 1.13)" font-size="8.8" text-anchor="end">0.4</text>
<text transform="translate(21.3 78.45) scale(1 1.13)" font-size="8.8" text-anchor="end">0.0</text>
<text transform="translate(21.3 92.05) scale(1 1.13)" font-size="8.8" text-anchor="end">0.3</text>
<text transform="translate(21.3 152.75) scale(1 1.13)" font-size="8.8" text-anchor="end">0.0</text>
<text transform="translate(21.3 165.15) scale(1 1.13)" font-size="8.8" text-anchor="end">0.015</text>
<text transform="translate(21.3 227.75) scale(1 1.13)" font-size="8.8" text-anchor="end">0.000</text>
<text transform="translate(28.80 242.2) scale(1 1.13)" font-size="8.8" text-anchor="middle">4000</text>
<text transform="translate(74.73 242.2) scale(1 1.13)" font-size="8.8" text-anchor="middle">3500</text>
<text transform="translate(120.66 242.2) scale(1 1.13)" font-size="8.8" text-anchor="middle">3000</text>
<text transform="translate(166.59 242.2) scale(1 1.13)" font-size="8.8" text-anchor="middle">2500</text>
<text transform="translate(212.51 242.2) scale(1 1.13)" font-size="8.8" text-anchor="middle">2000</text>
<text transform="translate(258.44 242.2) scale(1 1.13)" font-size="8.8" text-anchor="middle">1500</text>
<text transform="translate(304.37 242.2) scale(1 1.13)" font-size="8.8" text-anchor="middle">1000</text>
<text transform="translate(350.30 242.2) scale(1 1.13)" font-size="8.8" text-anchor="middle">500</text>
<text transform="translate(190.9 251.7) scale(1 1.1)" font-size="8.8" text-anchor="middle">Wavenumber (cm<tspan font-size="5.6" dy="-3.2">-1</tspan><tspan dy="3.2">)</tspan></text>
<text transform="translate(7.0 118.4) rotate(-90)" font-size="8.8" text-anchor="middle">Absorbance</text>
<text x="31.4" y="11.6" font-size="4.95" stroke-width="0.06">Before irradiation</text>
<text x="31.4" y="87.8" font-size="4.95" stroke-width="0.06">After irradiation</text>
<text x="32.7" y="162.1" font-size="5.2" stroke-width="0.14">Residue</text>
</g>
</svg>
</body></html>
